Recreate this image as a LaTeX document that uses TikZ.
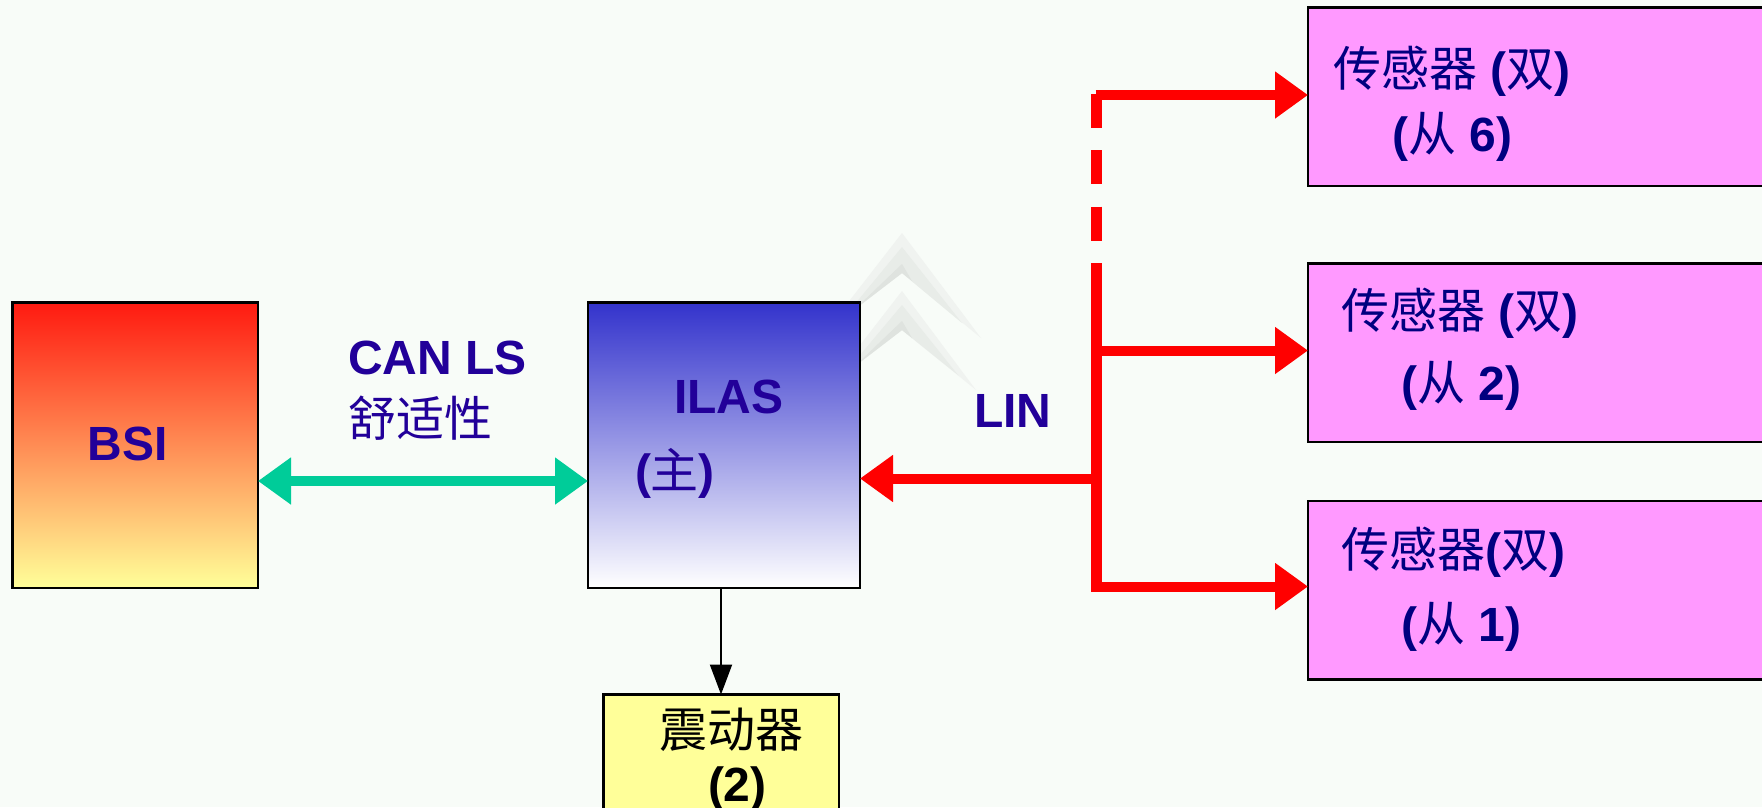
\documentclass[tikz,border=0pt]{standalone}
\usepackage{fontspec}
\setmainfont{Liberation Sans}
\newfontfamily\cjkfont{Noto Sans CJK SC}
\newcommand\zh[1]{{\cjkfont\mdseries #1}}
\usetikzlibrary{arrows.meta}
\definecolor{bgc}{HTML}{F8FCF8}
\definecolor{ink}{HTML}{220099}
\definecolor{navyink}{HTML}{000080}
\definecolor{pinkbox}{HTML}{FF99FF}
\definecolor{yellowbox}{HTML}{FFFF99}
\definecolor{greenline}{HTML}{00CC99}
\definecolor{bsitop}{HTML}{FF1A10}
\definecolor{bsimid}{HTML}{FFA668}
\definecolor{ilastop}{HTML}{3333CC}
\definecolor{ilasmid}{HTML}{A8A8E0}
\definecolor{chevlight}{HTML}{F0F3F0}
\definecolor{chevmid}{HTML}{E8ECE8}
\definecolor{chevdark}{HTML}{DFE3DF}
\tikzset{
  x=1pt,y=-1pt,
  boxnode/.style={draw=black,line width=2.5pt,inner sep=0pt,outer sep=0pt},
  sensorbox/.style={boxnode,fill=pinkbox,minimum width=500pt,minimum height=178.5pt,anchor=north west},
  label/.style={anchor=base west,inner sep=0pt,outer sep=0pt,font=\fontsize{48}{56}\selectfont\bfseries},
  inklabel/.style={label,text=ink},
  navylabel/.style={label,text=navyink},
  blacklabel/.style={label,text=black},
  redline/.style={draw=red,line width=10pt},
  redarrow/.style={redline,-{Triangle[length=33pt,width=45pt]}},
  greenarrow/.style={draw=greenline,line width=10pt,{Triangle[length=33pt,width=45pt]}-{Triangle[length=33pt,width=45pt]}},
  blackarrow/.style={draw=black,line width=2pt,-{Triangle[length=30pt,width=22pt]}}
}
\begin{document}
\begin{tikzpicture}
\useasboundingbox (0,0) rectangle (1762,807);
\clip (0,0) rectangle (1762,807);
\fill[bgc] (0,0) rectangle (1762,807);
% background chevrons
\fill[chevlight] (902,233) -- (981,338) -- (902,273) -- (850,313) -- (850,300) -- cycle;
\fill[chevmid] (902,247) -- (962,323) -- (902,273) -- (850,313) -- (850,310) -- cycle;
\fill[chevdark] (902,264) -- (912,281) -- (902,273) -- (855,309) -- cycle;
\fill[chevlight] (902,291) -- (976,390) -- (902,330) -- (850,370) -- (850,358) -- cycle;
\fill[chevmid] (902,305) -- (958,375) -- (902,330) -- (850,370) -- (850,367) -- cycle;
\fill[chevdark] (902,321) -- (912,338) -- (902,330) -- (855,366) -- cycle;
% boxes
\node[boxnode,top color=bsitop,middle color=bsimid,bottom color=yellowbox,minimum width=245.5pt,minimum height=285.5pt,anchor=north west] (bsi) at (12.5,302.5) {};
\node[boxnode,top color=ilastop,middle color=ilasmid,bottom color=white,minimum width=272pt,minimum height=285.5pt,anchor=north west] (ilas) at (588,302.5) {};
\node[boxnode,fill=yellowbox,minimum width=235.5pt,minimum height=160pt,anchor=north west] (vib) at (603.5,694.5) {};
\node[sensorbox] (s6) at (1308,7.5) {};
\node[sensorbox] (s2) at (1308,263.5) {};
\node[sensorbox] (s1) at (1308,501) {};
% junctions
\coordinate (jtop) at (1096.5,95);
\coordinate (jdash) at (1096.5,263);
\coordinate (j2) at (1096.5,350.5);
\coordinate (jlin) at (1096.5,478.5);
\coordinate (j1) at (1096.5,586.5);
% connectors
\draw[greenarrow] (bsi.east |- 0,481) -- (ilas.west |- 0,481);
\draw[blackarrow] (ilas.south -| 721,0) -- (vib.north -| 721,0);
\draw[red,line width=11pt,dash pattern=on 34pt off 22.5pt] ([yshift=1.5pt]jtop) -- (jdash);
\draw[red,line width=11pt] (jdash) -- ([yshift=-5.5pt]j1);
\draw[redarrow] ([xshift=-1pt]jtop) -- (s6.west |- jtop);
\draw[redarrow] (j2) -- (s2.west |- j2);
\draw[redarrow] ([xshift=-1pt]j1) -- (s1.west |- j1);
\draw[redarrow] (jlin) -- (ilas.east |- jlin);
% labels
\node[inklabel] (tbsi) at (87.5,460) {BSI};
\node[inklabel] (tcan) at (348,374) {CAN LS};
\node[inklabel] (tcomfort) at (348,436) {\zh{舒适性}};
\node[inklabel] (tilas) at (674,413.5) {ILAS};
\node[inklabel] (tmaster) at (635,488) {(\zh{主})};
\node[inklabel] (tlin) at (974,427) {LIN};
\node[navylabel] (t6a) at (1333,86.5) {\zh{传感器} (\zh{双})};
\node[navylabel] (t6b) at (1392,151) {(\zh{从} 6)};
\node[navylabel] (t2a) at (1341.5,328) {\zh{传感器} (\zh{双})};
\node[navylabel] (t2b) at (1401,400.5) {(\zh{从} 2)};
\node[navylabel] (t1a) at (1341.5,567.5) {\zh{传感器}(\zh{双})};
\node[navylabel] (t1b) at (1401,641) {(\zh{从} 1)};
\node[blacklabel] (tvib) at (659.5,747.5) {\zh{震动器}};
\node[blacklabel] (tvibn) at (708,801.5) {(2)};
\end{tikzpicture}
\end{document}
